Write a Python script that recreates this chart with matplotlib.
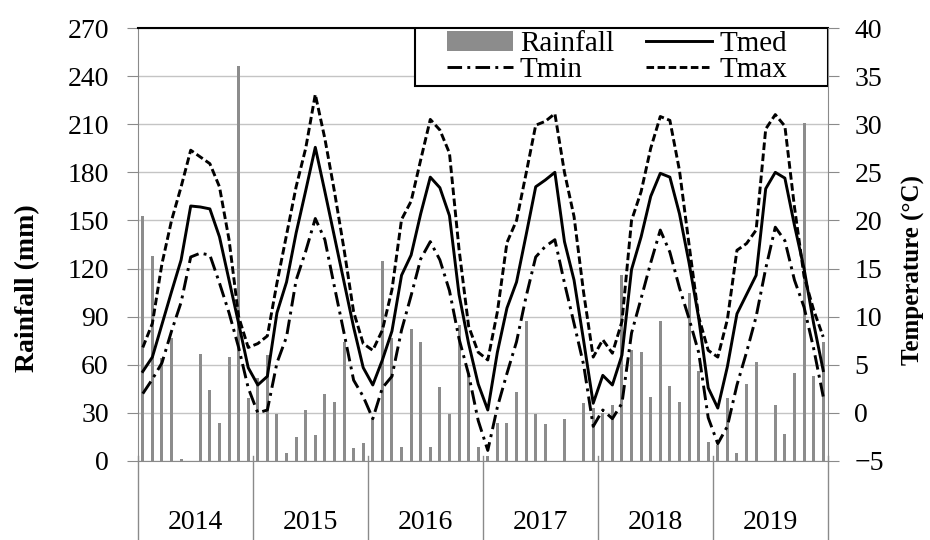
import numpy as np
import matplotlib.pyplot as plt
from matplotlib.patches import Rectangle
from matplotlib.transforms import blended_transform_factory

plt.rcParams['font.family'] = ['Liberation Serif', 'DejaVu Serif']

years = ['2014', '2015', '2016', '2017', '2018', '2019']

# monthly rainfall (mm), Jan..Dec of each year
rain = [153, 128, 64, 77, 1, 0, 67, 44, 24, 65, 246, 39,
        52, 66, 29, 5, 15, 32, 16, 42, 37, 74, 8, 11,
        26, 125, 77, 9, 82, 74, 9, 46, 29, 85, 55, 9,
        3, 24, 24, 43, 87, 29, 23, 0, 26, 0, 36, 33,
        30, 35, 116, 69, 68, 40, 87, 47, 37, 105, 56, 12,
        10, 39, 5, 48, 62, 0, 35, 17, 55, 211, 53, 74]

tmed = [4.3, 5.8, 9.2, 12.6, 15.9, 21.5, 21.4, 21.2, 18.3, 13.8, 9.3, 4.7,
        2.9, 3.8, 10.4, 13.6, 18.7, 23.1, 27.6, 23.0, 18.3, 13.6, 8.9, 4.7,
        2.9, 5.5, 8.5, 14.3, 16.4, 20.7, 24.5, 23.4, 20.5, 12.3, 7.2, 3.0,
        0.3, 6.3, 10.9, 13.6, 18.5, 23.5, 24.2, 25.0, 17.8, 13.8, 7.5, 1.0,
        3.9, 2.9, 6.0, 14.9, 18.3, 22.5, 24.9, 24.5, 20.7, 15.6, 9.9, 2.6,
        0.5, 4.8, 10.3, 12.3, 14.3, 23.3, 25.0, 24.4, 19.5, 15.0, 9.3, 4.4]

tmin = [2.0, 3.5, 5.2, 8.5, 11.5, 16.2, 16.6, 16.4, 13.5, 10.4, 6.8, 2.6,
        0.0, 0.3, 5.2, 7.9, 13.8, 16.8, 20.2, 18.0, 13.1, 8.3, 3.4, 1.7,
        -0.6, 2.6, 3.8, 8.6, 12.2, 16.0, 17.8, 15.9, 12.7, 7.7, 4.0, -0.8,
        -3.9, 0.6, 4.1, 7.4, 12.1, 16.2, 17.3, 18.0, 13.5, 9.3, 5.0, -1.4,
        0.3, -0.6, 1.0, 8.3, 11.9, 15.6, 19.0, 16.7, 13.0, 9.8, 6.3, -0.5,
        -3.2, -1.4, 2.9, 6.3, 10.0, 15.0, 19.3, 17.9, 13.8, 11.0, 6.7, 1.7]

tmax = [6.8, 9.3, 15.5, 20.0, 23.5, 27.3, 26.6, 25.9, 23.5, 18.0, 10.0, 6.8,
        7.2, 8.0, 13.5, 18.5, 23.5, 27.5, 33.1, 28.5, 23.0, 17.0, 10.5, 7.2,
        6.5, 8.6, 12.8, 20.1, 22.0, 26.3, 30.5, 29.4, 27.0, 17.0, 9.0, 6.3,
        5.5, 10.5, 17.7, 20.0, 24.9, 29.9, 30.3, 31.1, 25.0, 20.4, 12.5, 5.8,
        7.6, 6.2, 9.5, 20.0, 23.0, 27.5, 30.8, 30.4, 25.2, 17.5, 10.0, 6.5,
        5.8, 9.7, 16.9, 17.6, 19.0, 29.5, 31.0, 29.8, 21.4, 14.2, 10.7, 7.9]

x = np.arange(len(rain))
gray = '#8a8a8a'

fig = plt.figure(figsize=(9.3, 5.4), dpi=100)
ax = fig.add_axes([138/930, 1-461/540, 690/930, 433/540])
ax2 = ax.twinx()

bars = ax.bar(x, rain, width=0.32, color='#8c8c8c', label='Rainfall', zorder=2)
ax.set_xlim(-0.5, len(rain) - 0.5)
ax.set_ylim(0, 270)
ax.set_yticks(np.arange(0, 271, 30))
ax.yaxis.grid(True, color='#c4c4c4', lw=1.0, zorder=0)
ax.set_axisbelow(True)
ax.set_xticks([])

lw = 2.1
l_med, = ax2.plot(x, tmed, color='black', lw=lw, label='Tmed')
l_min, = ax2.plot(x, tmin, color='black', lw=lw, dashes=(5.0, 1.8, 1.0, 1.8), label='Tmin')
l_max, = ax2.plot(x, tmax, color='black', lw=lw, dashes=(2.6, 1.2), label='Tmax')
ax2.set_ylim(-5, 40)
ax2.set_yticks(np.arange(-5, 41, 5))

for a in (ax, ax2):
    for s in a.spines.values():
        s.set_visible(False)
ax.spines['left'].set_visible(True)
ax.spines['left'].set_color(gray)
ax.spines['bottom'].set_visible(True)
ax.spines['bottom'].set_color(gray)
ax2.spines['right'].set_visible(True)
ax2.spines['right'].set_color(gray)
ax.spines['top'].set_visible(True)
ax.spines['top'].set_color('black')
ax.spines['top'].set_linewidth(1.5)

ax.tick_params(axis='y', colors=gray, labelcolor='black', length=8, pad=13, labelsize=20, direction='out')
ax2.tick_params(axis='y', colors=gray, labelcolor='black', length=8, pad=11, labelsize=20, direction='out')

# year boxes under the axis
tr = blended_transform_factory(ax.transData, ax.transAxes)
for k in range(len(years) + 1):
    b = k * 12 - 0.5
    ax.plot([b, b], [0.012, -0.25], transform=tr, color=gray, lw=1.0, clip_on=False)
for k, yr in enumerate(years):
    ax.text(k * 12 + 5.5, -0.142, yr, transform=tr, ha='center', va='center', fontsize=20)

# legend box
ax2.add_patch(Rectangle(((415-138)/690, (461-86)/433), 413/690, 58/433, transform=ax2.transAxes,
                        facecolor='white', edgecolor='black', lw=1.5, zorder=4))
leg = ax2.legend([bars, l_min, l_med, l_max], ['Rainfall', 'Tmin', 'Tmed', 'Tmax'], ncol=2,
                 loc='center', bbox_to_anchor=((617-138)/690, (461-57)/433), frameon=False,
                 fontsize=21, handlelength=2.25, handletextpad=0.25, columnspacing=1.1,
                 labelspacing=0.0, borderpad=0.0)
leg.set_zorder(5)

fig.text(28/930, 1-288/540, 'Rainfall (mm)', rotation=90, ha='center', va='center',
         fontsize=20, fontweight='bold')
fig.text(913/930, 1-270/540, 'Temperature (°C)', rotation=90, ha='center', va='center',
         fontsize=18, fontweight='bold')

fig.savefig('out.png', dpi=100)
